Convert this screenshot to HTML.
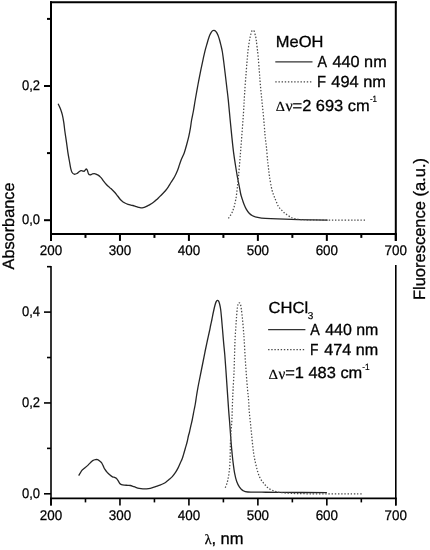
<!DOCTYPE html>
<html><head><meta charset="utf-8"><style>
html,body{margin:0;padding:0;background:#fff;width:430px;height:550px;overflow:hidden}
svg{display:block;filter:grayscale(100%);text-rendering:geometricPrecision}
</style></head><body>
<svg width="430" height="550" viewBox="0 0 430 550">
<rect width="430" height="550" fill="#fff"/>
<g stroke="#000" stroke-width="2.0" fill="none" stroke-linecap="butt">
<line x1="51.00" y1="1.30" x2="51.00" y2="240.90"/>
<line x1="395.80" y1="1.30" x2="395.80" y2="240.90"/>
<line x1="50.00" y1="233.90" x2="396.80" y2="233.90"/>
<line x1="50.00" y1="2.30" x2="396.80" y2="2.30"/>
<line x1="51.00" y1="233.90" x2="51.00" y2="240.90"/>
<line x1="85.48" y1="233.90" x2="85.48" y2="237.90"/>
<line x1="119.96" y1="233.90" x2="119.96" y2="240.90"/>
<line x1="154.44" y1="233.90" x2="154.44" y2="237.90"/>
<line x1="188.92" y1="233.90" x2="188.92" y2="240.90"/>
<line x1="223.40" y1="233.90" x2="223.40" y2="237.90"/>
<line x1="257.88" y1="233.90" x2="257.88" y2="240.90"/>
<line x1="292.36" y1="233.90" x2="292.36" y2="237.90"/>
<line x1="326.84" y1="233.90" x2="326.84" y2="240.90"/>
<line x1="361.32" y1="233.90" x2="361.32" y2="237.90"/>
<line x1="395.80" y1="233.90" x2="395.80" y2="240.90"/>
<line x1="51.00" y1="220.20" x2="44.00" y2="220.20"/>
<line x1="51.00" y1="86.00" x2="44.00" y2="86.00"/>
<line x1="51.00" y1="153.10" x2="47.00" y2="153.10"/>
<line x1="51.00" y1="18.90" x2="47.00" y2="18.90"/>
</g>
<g stroke="#000" stroke-width="1.6" fill="none" stroke-linecap="butt">
<line x1="51.00" y1="266.00" x2="51.00" y2="505.40"/>
<line x1="395.80" y1="265.00" x2="395.80" y2="505.40"/>
<line x1="50.00" y1="498.40" x2="396.80" y2="498.40"/>
<line x1="51.00" y1="498.40" x2="51.00" y2="505.40"/>
<line x1="85.48" y1="498.40" x2="85.48" y2="502.40"/>
<line x1="119.96" y1="498.40" x2="119.96" y2="505.40"/>
<line x1="154.44" y1="498.40" x2="154.44" y2="502.40"/>
<line x1="188.92" y1="498.40" x2="188.92" y2="505.40"/>
<line x1="223.40" y1="498.40" x2="223.40" y2="502.40"/>
<line x1="257.88" y1="498.40" x2="257.88" y2="505.40"/>
<line x1="292.36" y1="498.40" x2="292.36" y2="502.40"/>
<line x1="326.84" y1="498.40" x2="326.84" y2="505.40"/>
<line x1="361.32" y1="498.40" x2="361.32" y2="502.40"/>
<line x1="395.80" y1="498.40" x2="395.80" y2="505.40"/>
<line x1="51.00" y1="493.80" x2="44.00" y2="493.80"/>
<line x1="51.00" y1="402.95" x2="44.00" y2="402.95"/>
<line x1="51.00" y1="312.10" x2="44.00" y2="312.10"/>
<line x1="51.00" y1="448.38" x2="47.00" y2="448.38"/>
<line x1="51.00" y1="357.53" x2="47.00" y2="357.53"/>
<line x1="51.00" y1="266.68" x2="47.00" y2="266.68"/>
</g>
<g fill="none" stroke="#262626" stroke-width="1.3" stroke-linejoin="round">
<path d="M58.10 103.80 C58.50 104.65 59.80 107.08 60.50 108.90 C61.20 110.72 61.75 112.40 62.30 114.70 C62.85 117.00 63.37 119.90 63.80 122.70 C64.23 125.50 64.47 128.35 64.90 131.50 C65.33 134.65 65.92 138.22 66.40 141.60 C66.88 144.98 67.32 148.65 67.80 151.80 C68.28 154.95 68.82 157.75 69.30 160.50 C69.78 163.25 70.23 166.30 70.70 168.30 C71.17 170.30 71.52 171.52 72.10 172.50 C72.68 173.48 73.38 174.03 74.20 174.20 C75.02 174.37 76.18 173.90 77.00 173.50 C77.82 173.10 78.40 172.27 79.10 171.80 C79.80 171.33 80.57 170.82 81.20 170.70 C81.83 170.58 82.38 171.03 82.90 171.10 C83.42 171.17 83.75 171.45 84.30 171.10 C84.85 170.75 85.68 169.12 86.20 169.00 C86.72 168.88 87.02 169.58 87.40 170.40 C87.78 171.22 88.03 173.15 88.50 173.90 C88.97 174.65 89.57 174.88 90.20 174.90 C90.83 174.92 91.60 174.22 92.30 174.00 C93.00 173.78 93.72 173.55 94.40 173.60 C95.08 173.65 95.72 174.00 96.40 174.30 C97.08 174.60 97.82 174.93 98.50 175.40 C99.18 175.87 99.92 176.53 100.50 177.10 C101.08 177.67 101.52 178.18 102.00 178.80 C102.48 179.42 102.67 179.85 103.40 180.80 C104.13 181.75 105.55 183.53 106.40 184.50 C107.25 185.47 107.75 185.92 108.50 186.60 C109.25 187.28 109.88 187.65 110.90 188.60 C111.92 189.55 113.48 191.07 114.60 192.30 C115.72 193.53 116.60 194.75 117.60 196.00 C118.60 197.25 119.78 198.88 120.60 199.80 C121.42 200.72 121.88 201.02 122.50 201.50 C123.12 201.98 123.38 202.22 124.30 202.70 C125.22 203.18 126.72 203.97 128.00 204.40 C129.28 204.83 130.97 205.07 132.00 205.30 C133.03 205.53 133.45 205.57 134.20 205.80 C134.95 206.03 135.75 206.43 136.50 206.70 C137.25 206.97 137.97 207.22 138.70 207.40 C139.43 207.58 140.15 207.77 140.90 207.80 C141.65 207.83 142.45 207.75 143.20 207.60 C143.95 207.45 144.67 207.20 145.40 206.90 C146.13 206.60 146.85 206.18 147.60 205.80 C148.35 205.42 149.15 205.02 149.90 204.60 C150.65 204.18 151.37 203.80 152.10 203.30 C152.83 202.80 153.63 202.13 154.30 201.60 C154.97 201.07 155.25 200.88 156.10 200.10 C156.95 199.32 158.28 198.00 159.40 196.90 C160.52 195.80 161.77 194.57 162.80 193.50 C163.83 192.43 164.68 191.62 165.60 190.50 C166.52 189.38 167.42 188.13 168.30 186.80 C169.18 185.47 169.85 184.18 170.90 182.50 C171.95 180.82 173.50 178.70 174.60 176.70 C175.70 174.70 176.68 172.52 177.50 170.50 C178.32 168.48 178.85 166.47 179.50 164.60 C180.15 162.73 180.60 161.28 181.40 159.30 C182.20 157.32 183.42 155.17 184.30 152.70 C185.18 150.23 185.95 147.22 186.70 144.50 C187.45 141.78 188.18 139.12 188.80 136.40 C189.42 133.68 189.93 130.93 190.40 128.20 C190.87 125.47 191.10 122.87 191.60 120.00 C192.10 117.13 192.77 114.50 193.40 111.00 C194.03 107.50 194.63 103.42 195.40 99.00 C196.17 94.58 197.12 89.22 198.00 84.50 C198.88 79.78 199.85 74.90 200.70 70.70 C201.55 66.50 202.52 62.03 203.10 59.30 C203.68 56.57 203.78 56.07 204.20 54.30 C204.62 52.53 205.13 50.45 205.60 48.70 C206.07 46.95 206.53 45.42 207.00 43.80 C207.47 42.18 207.93 40.45 208.40 39.00 C208.87 37.55 209.33 36.22 209.80 35.10 C210.27 33.98 210.73 33.03 211.20 32.30 C211.67 31.57 212.13 31.02 212.60 30.70 C213.07 30.38 213.53 30.37 214.00 30.40 C214.47 30.43 214.95 30.52 215.40 30.90 C215.85 31.28 216.25 31.93 216.70 32.70 C217.15 33.47 217.63 34.33 218.10 35.50 C218.57 36.67 219.03 38.08 219.50 39.70 C219.97 41.32 220.43 43.23 220.90 45.20 C221.37 47.17 221.83 48.78 222.30 51.50 C222.77 54.22 223.23 57.92 223.70 61.50 C224.17 65.08 224.60 68.83 225.10 73.00 C225.60 77.17 226.17 81.98 226.70 86.50 C227.23 91.02 227.75 94.82 228.30 100.10 C228.85 105.38 229.42 112.15 230.00 118.20 C230.58 124.25 231.20 130.65 231.80 136.40 C232.40 142.15 232.98 147.85 233.60 152.70 C234.22 157.55 234.88 161.55 235.50 165.50 C236.12 169.45 236.70 173.07 237.30 176.40 C237.90 179.73 238.55 182.65 239.10 185.50 C239.65 188.35 240.20 191.62 240.60 193.50 C241.00 195.38 241.18 195.73 241.50 196.80 C241.82 197.87 242.07 198.63 242.50 199.90 C242.93 201.17 243.45 202.82 244.10 204.40 C244.75 205.98 245.55 207.92 246.40 209.40 C247.25 210.88 248.18 212.23 249.20 213.30 C250.22 214.37 251.30 215.15 252.50 215.80 C253.70 216.45 254.90 216.82 256.40 217.20 C257.90 217.58 259.08 217.85 261.50 218.10 C263.92 218.35 267.00 218.52 270.90 218.70 C274.80 218.88 278.38 219.02 284.90 219.20 C291.42 219.38 302.87 219.65 310.00 219.80 C317.13 219.95 324.75 220.05 327.70 220.10"/>
<path d="M78.70 475.60 C78.95 475.20 79.67 474.07 80.20 473.20 C80.73 472.33 81.20 471.22 81.90 470.40 C82.60 469.58 83.52 469.05 84.40 468.30 C85.28 467.55 86.27 466.77 87.20 465.90 C88.13 465.03 89.08 463.98 90.00 463.10 C90.92 462.22 91.78 461.18 92.70 460.60 C93.62 460.02 94.68 459.75 95.50 459.60 C96.32 459.45 96.90 459.47 97.60 459.70 C98.30 459.93 99.05 460.50 99.70 461.00 C100.35 461.50 100.92 461.88 101.50 462.70 C102.08 463.52 102.65 464.82 103.20 465.90 C103.75 466.98 104.13 468.12 104.80 469.20 C105.47 470.28 106.38 471.47 107.20 472.40 C108.02 473.33 108.82 474.05 109.70 474.80 C110.58 475.55 111.68 476.48 112.50 476.90 C113.32 477.32 113.97 477.07 114.60 477.30 C115.23 477.53 115.72 477.73 116.30 478.30 C116.88 478.87 117.52 479.83 118.10 480.70 C118.68 481.57 119.23 482.85 119.80 483.50 C120.37 484.15 120.75 484.33 121.50 484.60 C122.25 484.87 123.25 484.98 124.30 485.10 C125.35 485.22 126.77 485.23 127.80 485.30 C128.83 485.37 129.63 485.33 130.50 485.50 C131.37 485.67 132.18 486.02 133.00 486.30 C133.82 486.58 134.37 486.87 135.40 487.20 C136.43 487.53 137.95 488.03 139.20 488.30 C140.45 488.57 141.67 488.72 142.90 488.80 C144.13 488.88 145.37 488.88 146.60 488.80 C147.83 488.72 149.07 488.57 150.30 488.30 C151.53 488.03 152.75 487.62 154.00 487.20 C155.25 486.78 156.72 486.18 157.80 485.80 C158.88 485.42 159.72 485.20 160.50 484.90 C161.28 484.60 161.62 484.45 162.50 484.00 C163.38 483.55 164.72 482.93 165.80 482.20 C166.88 481.47 167.92 480.53 169.00 479.60 C170.08 478.67 171.22 477.80 172.30 476.60 C173.38 475.40 174.53 473.85 175.50 472.40 C176.47 470.95 177.28 469.52 178.10 467.90 C178.92 466.28 179.75 464.13 180.40 462.70 C181.05 461.27 181.48 460.65 182.00 459.30 C182.52 457.95 182.93 456.48 183.50 454.60 C184.07 452.72 184.80 450.10 185.40 448.00 C186.00 445.90 186.60 444.00 187.10 442.00 C187.60 440.00 188.00 437.67 188.40 436.00 C188.80 434.33 189.10 433.67 189.50 432.00 C189.90 430.33 190.35 428.00 190.80 426.00 C191.25 424.00 191.65 422.67 192.20 420.00 C192.75 417.33 193.58 412.67 194.10 410.00 C194.62 407.33 194.90 406.33 195.30 404.00 C195.70 401.67 196.13 398.33 196.50 396.00 C196.87 393.67 197.15 392.00 197.50 390.00 C197.85 388.00 197.95 387.33 198.60 384.00 C199.25 380.67 200.63 373.83 201.40 370.00 C202.17 366.17 202.70 363.50 203.20 361.00 C203.70 358.50 204.00 357.00 204.40 355.00 C204.80 353.00 205.08 351.50 205.60 349.00 C206.12 346.50 206.85 343.00 207.50 340.00 C208.15 337.00 208.97 333.50 209.50 331.00 C210.03 328.50 210.28 327.00 210.70 325.00 C211.12 323.00 211.55 321.17 212.00 319.00 C212.45 316.83 212.92 314.25 213.40 312.00 C213.88 309.75 214.43 307.23 214.90 305.50 C215.37 303.77 215.78 302.47 216.20 301.60 C216.62 300.73 217.00 300.37 217.40 300.30 C217.80 300.23 218.23 300.58 218.60 301.20 C218.97 301.82 219.27 302.70 219.60 304.00 C219.93 305.30 220.28 306.73 220.60 309.00 C220.92 311.27 221.18 314.22 221.50 317.60 C221.82 320.98 222.15 325.17 222.50 329.30 C222.85 333.43 223.22 338.12 223.60 342.40 C223.98 346.68 224.42 350.40 224.80 355.00 C225.18 359.60 225.50 364.32 225.90 370.00 C226.30 375.68 226.73 382.28 227.20 389.10 C227.67 395.92 228.30 405.45 228.70 410.90 C229.10 416.35 229.32 418.17 229.60 421.80 C229.88 425.43 230.13 429.07 230.40 432.70 C230.67 436.33 230.90 439.97 231.20 443.60 C231.50 447.23 231.87 451.20 232.20 454.50 C232.53 457.80 232.80 460.30 233.20 463.40 C233.60 466.50 234.02 470.08 234.60 473.10 C235.18 476.12 235.88 479.17 236.70 481.50 C237.52 483.83 238.45 485.58 239.50 487.10 C240.55 488.62 241.60 489.78 243.00 490.60 C244.40 491.42 244.77 491.73 247.90 492.00 C251.03 492.27 256.45 492.13 261.80 492.20 C267.15 492.27 269.15 492.33 280.00 492.40 C290.85 492.47 319.08 492.57 326.90 492.60"/>
</g>
<g fill="none" stroke="#4a4a4a" stroke-width="1.25" stroke-dasharray="1.4 1.75">
<path d="M228.40 218.40 C228.77 217.87 229.95 216.25 230.60 215.20 C231.25 214.15 231.83 213.13 232.30 212.10 C232.77 211.07 233.05 210.05 233.40 209.00 C233.75 207.95 234.12 206.88 234.40 205.80 C234.68 204.72 234.87 203.55 235.10 202.50 C235.33 201.45 235.60 200.52 235.80 199.50 C236.00 198.48 236.00 198.73 236.30 196.40 C236.60 194.07 237.22 189.02 237.60 185.50 C237.98 181.98 238.17 180.17 238.60 175.30 C239.03 170.43 239.65 163.10 240.20 156.30 C240.75 149.50 241.35 141.77 241.90 134.50 C242.45 127.23 243.05 119.52 243.50 112.70 C243.95 105.88 244.15 100.42 244.60 93.60 C245.05 86.78 245.70 78.23 246.20 71.80 C246.70 65.37 247.25 58.88 247.60 55.00 C247.95 51.12 248.03 50.67 248.30 48.50 C248.57 46.33 248.90 43.88 249.20 42.00 C249.50 40.12 249.80 38.58 250.10 37.20 C250.40 35.82 250.70 34.73 251.00 33.70 C251.30 32.67 251.57 31.57 251.90 31.00 C252.23 30.43 252.62 30.25 253.00 30.30 C253.38 30.35 253.83 30.55 254.20 31.30 C254.57 32.05 254.92 33.70 255.20 34.80 C255.48 35.90 255.70 36.85 255.90 37.90 C256.10 38.95 256.20 39.53 256.40 41.10 C256.60 42.67 256.83 44.98 257.10 47.30 C257.37 49.62 257.63 51.07 258.00 55.00 C258.37 58.93 258.95 66.43 259.30 70.90 C259.65 75.37 259.80 78.17 260.10 81.80 C260.40 85.43 260.75 89.07 261.10 92.70 C261.45 96.33 261.83 99.97 262.20 103.60 C262.57 107.23 262.95 110.78 263.30 114.50 C263.65 118.22 264.02 122.55 264.30 125.90 C264.58 129.25 264.77 132.05 265.00 134.60 C265.23 137.15 265.45 139.02 265.70 141.20 C265.95 143.38 266.20 144.62 266.50 147.70 C266.80 150.78 267.20 156.60 267.50 159.70 C267.80 162.80 267.98 163.58 268.30 166.30 C268.62 169.02 268.78 172.05 269.40 176.00 C270.02 179.95 270.97 186.00 272.00 190.00 C273.03 194.00 274.50 197.22 275.60 200.00 C276.70 202.78 277.63 205.05 278.60 206.70 C279.57 208.35 280.47 208.90 281.40 209.90 C282.33 210.90 283.27 211.88 284.20 212.70 C285.13 213.52 285.97 214.10 287.00 214.80 C288.03 215.50 289.37 216.33 290.40 216.90 C291.43 217.47 291.60 217.77 293.20 218.20 C294.80 218.63 295.53 219.20 300.00 219.50 C304.47 219.80 309.00 219.90 320.00 220.00 C331.00 220.10 358.33 220.08 366.00 220.10"/>
<path d="M225.30 487.70 C225.63 486.78 226.75 484.17 227.30 482.20 C227.85 480.23 228.23 478.10 228.60 475.90 C228.97 473.70 229.27 471.32 229.50 469.00 C229.73 466.68 229.88 464.42 230.00 462.00 C230.12 459.58 230.13 457.57 230.20 454.50 C230.27 451.43 230.28 447.23 230.40 443.60 C230.52 439.97 230.67 436.33 230.90 432.70 C231.13 429.07 231.58 425.43 231.80 421.80 C232.02 418.17 232.07 414.53 232.20 410.90 C232.33 407.27 232.45 403.63 232.60 400.00 C232.75 396.37 232.87 393.65 233.10 389.10 C233.33 384.55 233.77 378.15 234.00 372.70 C234.23 367.25 234.33 361.77 234.50 356.40 C234.67 351.03 234.77 345.50 235.00 340.50 C235.23 335.50 235.63 330.45 235.90 326.40 C236.17 322.35 236.35 319.35 236.60 316.20 C236.85 313.05 237.12 309.62 237.40 307.50 C237.68 305.38 238.00 304.27 238.30 303.50 C238.60 302.73 238.87 302.87 239.20 302.90 C239.53 302.93 239.95 302.70 240.30 303.70 C240.65 304.70 240.93 306.33 241.30 308.90 C241.67 311.47 242.13 315.47 242.50 319.10 C242.87 322.73 243.22 327.22 243.50 330.70 C243.78 334.18 243.93 335.72 244.20 340.00 C244.47 344.28 244.77 350.95 245.10 356.40 C245.43 361.85 245.80 367.25 246.20 372.70 C246.60 378.15 247.10 384.55 247.50 389.10 C247.90 393.65 248.32 396.37 248.60 400.00 C248.88 403.63 248.92 407.27 249.20 410.90 C249.48 414.53 249.93 418.17 250.30 421.80 C250.67 425.43 251.03 429.07 251.40 432.70 C251.77 436.33 252.10 439.97 252.50 443.60 C252.90 447.23 253.28 451.20 253.80 454.50 C254.32 457.80 254.95 460.53 255.60 463.40 C256.25 466.27 256.90 469.15 257.70 471.70 C258.50 474.25 259.25 476.60 260.40 478.70 C261.55 480.80 263.20 482.67 264.60 484.30 C266.00 485.93 267.17 487.38 268.80 488.50 C270.43 489.62 272.53 490.35 274.40 491.00 C276.27 491.65 277.40 492.02 280.00 492.40 C282.60 492.78 285.00 493.07 290.00 493.30 C295.00 493.53 297.88 493.70 310.00 493.80 C322.12 493.90 353.92 493.88 362.70 493.90"/>
</g>
<g font-family="'Liberation Sans', sans-serif" font-size="14" fill="#000" stroke="#000" stroke-width="0.25">
<text x="51.00" y="255.00" text-anchor="middle" textLength="22.4" lengthAdjust="spacingAndGlyphs">200</text>
<text x="119.96" y="255.00" text-anchor="middle" textLength="22.4" lengthAdjust="spacingAndGlyphs">300</text>
<text x="188.92" y="255.00" text-anchor="middle" textLength="22.4" lengthAdjust="spacingAndGlyphs">400</text>
<text x="257.88" y="255.00" text-anchor="middle" textLength="22.4" lengthAdjust="spacingAndGlyphs">500</text>
<text x="326.84" y="255.00" text-anchor="middle" textLength="22.4" lengthAdjust="spacingAndGlyphs">600</text>
<text x="395.80" y="255.00" text-anchor="middle" textLength="22.4" lengthAdjust="spacingAndGlyphs">700</text>
<text x="51.00" y="519.60" text-anchor="middle" textLength="22.4" lengthAdjust="spacingAndGlyphs">200</text>
<text x="119.96" y="519.60" text-anchor="middle" textLength="22.4" lengthAdjust="spacingAndGlyphs">300</text>
<text x="188.92" y="519.60" text-anchor="middle" textLength="22.4" lengthAdjust="spacingAndGlyphs">400</text>
<text x="257.88" y="519.60" text-anchor="middle" textLength="22.4" lengthAdjust="spacingAndGlyphs">500</text>
<text x="326.84" y="519.60" text-anchor="middle" textLength="22.4" lengthAdjust="spacingAndGlyphs">600</text>
<text x="395.80" y="519.60" text-anchor="middle" textLength="22.4" lengthAdjust="spacingAndGlyphs">700</text>
<text x="40.0" y="223.90" text-anchor="end" textLength="18.1" lengthAdjust="spacingAndGlyphs">0,0</text>
<text x="40.0" y="89.70" text-anchor="end" textLength="18.1" lengthAdjust="spacingAndGlyphs">0,2</text>
<text x="40.0" y="497.50" text-anchor="end" textLength="18.1" lengthAdjust="spacingAndGlyphs">0,0</text>
<text x="40.0" y="406.90" text-anchor="end" textLength="18.1" lengthAdjust="spacingAndGlyphs">0,2</text>
<text x="40.0" y="315.80" text-anchor="end" textLength="18.1" lengthAdjust="spacingAndGlyphs">0,4</text>
</g>
<g font-family="'Liberation Sans', sans-serif" font-size="16.5" fill="#000" stroke="#000" stroke-width="0.3">
<text transform="translate(14.1 226.0) rotate(-90)" text-anchor="middle" font-size="16.3">Absorbance</text>
<text transform="translate(424.6 229) rotate(-90)" text-anchor="middle">Fluorescence (a.u.)</text>
<text x="224.1" y="544.1" text-anchor="middle" font-size="16.5"><tspan font-family="'Liberation Serif', serif" font-size="14">λ</tspan>, nm</text>
</g>
<g fill="#000" stroke="#000">
<text x="275.84" y="47.00" font-family="'Liberation Sans', sans-serif" font-size="16" stroke-width="0.3" textLength="47.60" lengthAdjust="spacingAndGlyphs">MeOH</text>
<text x="317.41" y="67.10" font-family="'Liberation Sans', sans-serif" font-size="16" stroke-width="0.3" textLength="9.51" lengthAdjust="spacingAndGlyphs">A</text>
<text x="332.45" y="67.10" font-family="'Liberation Sans', sans-serif" font-size="16" stroke-width="0.3" textLength="54.24" lengthAdjust="spacingAndGlyphs">440 nm</text>
<text x="317.06" y="87.20" font-family="'Liberation Sans', sans-serif" font-size="16" stroke-width="0.3" textLength="9.03" lengthAdjust="spacingAndGlyphs">F</text>
<text x="331.34" y="87.20" font-family="'Liberation Sans', sans-serif" font-size="16" stroke-width="0.3" textLength="54.65" lengthAdjust="spacingAndGlyphs">494 nm</text>
<text x="275.72" y="110.60" font-family="'Liberation Serif', serif" font-size="14" stroke-width="0.2" textLength="9.18" lengthAdjust="spacingAndGlyphs">&#916;</text>
<text x="285.50" y="110.60" font-family="'Liberation Serif', serif" font-size="16" stroke-width="0.2" textLength="7.23" lengthAdjust="spacingAndGlyphs">&#957;</text>
<text x="292.56" y="110.50" font-family="'Liberation Sans', sans-serif" font-size="16" stroke-width="0.3" textLength="77.07" lengthAdjust="spacingAndGlyphs">=2 693 cm</text>
<text x="369.88" y="102.30" font-family="'Liberation Sans', sans-serif" font-size="9" stroke-width="0.2" textLength="7.06" lengthAdjust="spacingAndGlyphs">-1</text>
<text x="268.55" y="313.10" font-family="'Liberation Sans', sans-serif" font-size="16" stroke-width="0.3" textLength="39.55" lengthAdjust="spacingAndGlyphs">CHCl</text>
<text x="307.75" y="319.30" font-family="'Liberation Sans', sans-serif" font-size="10" stroke-width="0.2" textLength="5.56" lengthAdjust="spacingAndGlyphs">3</text>
<text x="310.21" y="335.30" font-family="'Liberation Sans', sans-serif" font-size="16" stroke-width="0.3" textLength="9.51" lengthAdjust="spacingAndGlyphs">A</text>
<text x="325.25" y="335.30" font-family="'Liberation Sans', sans-serif" font-size="16" stroke-width="0.3" textLength="53.12" lengthAdjust="spacingAndGlyphs">440 nm</text>
<text x="310.03" y="355.20" font-family="'Liberation Sans', sans-serif" font-size="16" stroke-width="0.3" textLength="8.43" lengthAdjust="spacingAndGlyphs">F</text>
<text x="324.25" y="355.20" font-family="'Liberation Sans', sans-serif" font-size="16" stroke-width="0.3" textLength="53.83" lengthAdjust="spacingAndGlyphs">474 nm</text>
<text x="268.40" y="378.60" font-family="'Liberation Serif', serif" font-size="14" stroke-width="0.2" textLength="9.51" lengthAdjust="spacingAndGlyphs">&#916;</text>
<text x="278.60" y="378.60" font-family="'Liberation Serif', serif" font-size="16" stroke-width="0.2" textLength="6.82" lengthAdjust="spacingAndGlyphs">&#957;</text>
<text x="285.26" y="378.40" font-family="'Liberation Sans', sans-serif" font-size="16" stroke-width="0.3" textLength="76.97" lengthAdjust="spacingAndGlyphs">=1 483 cm</text>
<text x="362.17" y="369.50" font-family="'Liberation Sans', sans-serif" font-size="9" stroke-width="0.2" textLength="7.39" lengthAdjust="spacingAndGlyphs">-1</text>
</g>
<g stroke="#333" stroke-width="1.2">
<line x1="275.3" y1="61.8" x2="312.5" y2="61.8"/>
<line x1="268.1" y1="329.6" x2="305.4" y2="329.6"/>
</g>
<g stroke="#4a4a4a" stroke-width="1.25" stroke-dasharray="1.4 1.75">
<line x1="275.3" y1="81.8" x2="312.5" y2="81.8"/>
<line x1="268.1" y1="349.7" x2="305.4" y2="349.7"/>
</g>
</svg>
</body></html>
